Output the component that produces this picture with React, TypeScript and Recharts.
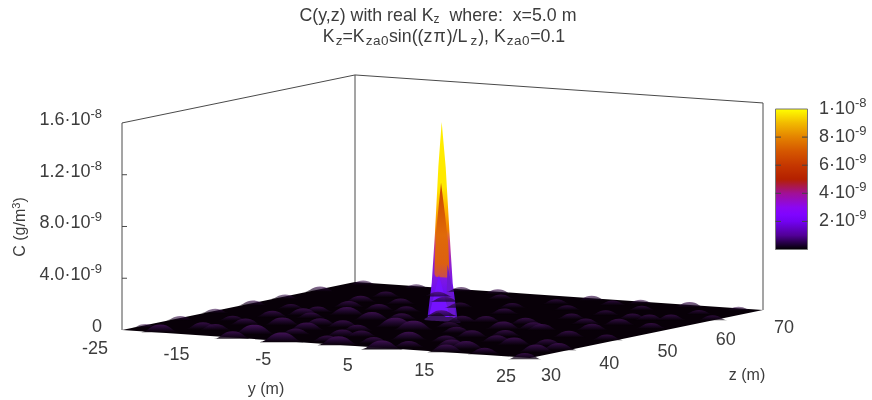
import { Area, ComposedChart, ReferenceArea, ReferenceLine, Scatter, XAxis, YAxis } from "recharts";

// C values are in units of 1e-9 g/m3
const yTicks = [-25, -15, -5, 5, 15, 25];
const zTicks = [30, 40, 50, 60, 70];
const cTicks = [
  { c: 0, main: "0", exp: "" },
  { c: 4, main: "4.0·10", exp: "-9" },
  { c: 8, main: "8.0·10", exp: "-9" },
  { c: 12, main: "1.2·10", exp: "-8" },
  { c: 16, main: "1.6·10", exp: "-8" },
];
const barTicks = [
  { c: 2, main: "2·10", exp: "-9" },
  { c: 4, main: "4·10", exp: "-9" },
  { c: 6, main: "6·10", exp: "-9" },
  { c: 8, main: "8·10", exp: "-9" },
  { c: 10, main: "1·10", exp: "-8" },
];
const paletteStops = [
  ["0%", "#000000"], ["10%", "#510096"], ["20%", "#7202f2"], ["25%", "#8004ff"],
  ["30%", "#8b07f2"], ["40%", "#a11096"], ["50%", "#b42000"], ["60%", "#c53700"],
  ["70%", "#d55700"], ["80%", "#e48300"], ["90%", "#f2ba00"], ["100%", "#ffff00"],
];

// small hills of the floor, [y, z, C]
const floorHills = [
  [-21.6, 31.8, 0.4], [-19, 35.5, 0.35], [-17, 40, 0.3], [-12, 34.5, 0.55], [-12, 30.8, 0.4],
  [-6, 30.8, 0.55], [-13.5, 41.4, 0.4], [-17.4, 35.4, 0.3], [-16, 51, 0.25], [-18, 46, 0.3],
  [-16, 48.5, 0.35], [-10, 43, 0.35], [-9, 39.3, 0.4], [-12, 50.4, 0.45], [-7.5, 48.4, 0.45],
  [-15.4, 55.5, 0.3], [-16.6, 59.2, 0.3], [-2.2, 45, 0.55], [0.8, 43.9, 0.55], [6.5, 30.5, 0.5],
  [-7, 42.7, 0.35], [0.6, 31.3, 0.5], [4.8, 37.5, 0.45], [11.9, 34.9, 0.4], [13.6, 31.6, 0.4],
  [13.8, 40, 0.35], [8.6, 48.4, 0.4], [11.4, 49.7, 0.35], [16.7, 38.9, 0.4], [21.9, 35.4, 0.4],
  [14.1, 34.3, 0.45], [9.3, 42, 0.35], [2, 57.8, 0.25], [-11.3, 54.9, 0.3], [-12, 59.6, 0.25],
  [-16.5, 63.4, 0.25], [1.7, 51, 0.3], [8.4, 52.5, 0.3], [3.9, 52, 0.3], [24, 30.5, 0.3],
  [-7.5, 70, 0.2], [10.4, 57.6, 0.25], [17.4, 55.9, 0.3], [18, 60.3, 0.25], [17.2, 51.6, 0.3],
  [23, 37.7, 0.35], [12.6, 49.4, 0.3], [20, 61.2, 0.25], [23.8, 63, 0.2], [16, 70, 0.22],
  [4, 70, 0.2], [2.3, 66.3, 0.2], [16, 60.2, 0.25], [11.8, 61.5, 0.2], [14, 55, 0.25],
  [18.2, 46.2, 0.3], [-24, 70, 0.15], [-17.5, 70, 0.15], [-25, 52.5, 0.2], [-25, 64, 0.2],
  [-25, 40, 0.15],
  [-20, 42, 0.2], [-8, 36, 0.3], [-3, 37, 0.35], [-2, 33, 0.3], [3, 34, 0.3], [8, 33, 0.3],
  [9, 38, 0.3], [18, 32, 0.3], [20, 40, 0.3], [-5, 50, 0.3], [-3, 54, 0.25], [-8, 55, 0.25],
  [-5, 60, 0.2], [-9, 63, 0.2], [0, 62, 0.2], [6, 63, 0.2], [-12, 66, 0.18], [-5, 67, 0.18],
  [8, 68, 0.18], [13, 66, 0.18], [20, 66, 0.15], [22, 55, 0.25], [23, 46, 0.25], [6, 44, 0.3],
  [3, 47, 0.25], [12, 44, 0.3], [-4, 41, 0.3], [-1, 37.5, 0.3], [-14, 47, 0.25], [-20, 52, 0.18],
  [-12, 70, 0.18], [10, 70, 0.15], [22, 70, 0.12], [-25, 46, 0.15], [-25, 58, 0.15], [-25, 34, 0.1],
];

// floor outline, front edge and back edge as [y, z] pairs
const floorFront = [[-25, 30], [3.55, 30], [25, 30], [25, 70]];
const floorBack = [[-25, 30], [-25, 70], [-3.55, 70], [25, 70]];

// peak at z=50: y offset, lower C, upper C
const peakOutline = [
  [-1.8, 0.1, 0.3], [-1.32, 0.1, 2.8], [-0.92, 0.1, 6.7], [-0.51, 0.1, 11.8], [-0.1, 0.1, 15.3],
  [0.39, 0.1, 11.84], [0.86, 0.1, 6.76], [1.25, 0.1, 2.9], [1.8, 0.1, 0.3],
];
const peakOrange = [
  [-0.98, 3.5, 3.9], [-0.82, 3.3, 6.6], [-0.18, 3.3, 10.6], [0.3, 3.3, 8.2], [0.72, 3.3, 5.8], [0.85, 3.4, 3.6],
];
const peakPurple = [
  [-1.6, 0.2, 0.4], [-0.43, 0.2, 3.45], [0.85, 0.2, 0.4],
];
const peakRight = [
  [0.4, 0.2, 0.3], [0.62, 0.2, 4.3], [1.22, 0.2, 2.4], [1.6, 0.2, 0.4],
];
const peakFoot = [
  [-2.2, -0.1, 0], [-1.6, -0.1, 0.22], [-1.0, -0.1, 0.42], [-0.5, -0.1, 0.55], [0, -0.1, 0.42],
  [0.5, -0.1, 0.25], [1.0, -0.1, 0.3], [1.5, -0.1, 0.2], [2.2, -0.1, 0],
];

const project = (y: number, z: number, c: number) => ({
  px: 122 + (y + 25) * 8.16 + (z - 30) * 5.825,
  py: 330 + (y + 25) * 0.56 - (z - 30) * 1.2 - c * 12.94,
});
const barY = (c: number) => 249.5 - c * 14.05;

const floorBand = floorFront.map((f, i) => {
  const lo = project(f[0], f[1], 0);
  const hi = project(floorBack[i][0], floorBack[i][1], 0);
  return { px: lo.px, band: [lo.py, hi.py] };
});
floorBand[1].px = project(-25, 70, 0).px;
floorBand[2].px = project(25, 30, 0).px;

const peakBand = (rows: number[][]) =>
  rows.map(([y, lo, hi]) => ({
    px: project(y, 50, lo).px,
    band: [project(y, 50, lo).py, project(y, 50, hi).py],
  }));

const hills = floorHills
  .map(([y, z, c]) => ({ ...project(y, z, c), c, base: project(y, z, 0).py }))
  .sort((a, b) => a.base - b.base);
const hillsBehind = hills.filter((h) => h.base < 321);
const hillsFront = hills.filter((h) => h.base >= 321);

const yTickLabels = yTicks.map((y) => {
  const p = project(y, 30, 0);
  return { px: p.px - 14, py: p.py + 18, main: String(y), exp: "", anchor: "end" };
});
const zTickLabels = zTicks.map((z) => {
  const p = project(25, z, 0);
  return { px: p.px + 11, py: p.py + 17, main: String(z), exp: "", anchor: "start" };
});
const cTickLabels = cTicks.map((t) => ({
  px: 102,
  py: project(-25, 30, t.c).py - 4,
  main: t.main,
  exp: t.exp,
  anchor: "end",
}));
const barLabels = barTicks.map((t) => ({
  px: 819,
  py: barY(t.c) - 1,
  main: t.main,
  exp: t.exp,
  anchor: "start",
}));

const INK = "#3c3c3c";

function Hill({ cx, cy, payload }: any) {
  const h = payload.base - payload.py + 2.5;
  const w = 11 + payload.c * 20;
  return (
    <path
      d={`M${cx - w},${cy + h} C${cx - w * 0.6},${cy + h * 0.9} ${cx - w * 0.55},${cy} ${cx},${cy} C${cx + w * 0.55},${cy} ${cx + w * 0.6},${cy + h * 0.9} ${cx + w},${cy + h} Z`}
      fill="url(#hillFill)"
      fillOpacity={Math.min(1, 0.45 + payload.c)}
      style={{ filter: "blur(0.6px)" }}
    />
  );
}

function TickText({ cx, cy, payload }: any) {
  return (
    <text x={cx} y={cy} dy={6} textAnchor={payload.anchor} fontSize={18} fill={INK} fontFamily="Liberation Sans">
      {payload.main}
      {payload.exp ? (
        <tspan dy={-7} fontSize={13}>
          {payload.exp}
        </tspan>
      ) : null}
    </text>
  );
}

const box = [
  [[-25, 30, 0], [-25, 30, 16]],
  [[-25, 30, 16], [-25, 70, 16]],
  [[-25, 70, 16], [25, 70, 16]],
  [[-25, 70, 16], [-25, 70, 0]],
  [[25, 70, 16], [25, 70, 0]],
];

const boxSegment = (a: number[], b: number[]) => {
  const p = project(a[0], a[1], a[2]);
  const q = project(b[0], b[1], b[2]);
  return [{ x: p.px, y: p.py }, { x: q.px, y: q.py }];
};

export default function App() {
  return (
    <div style={{ position: "absolute", left: 0, top: 0, width: 872, height: 400, filter: "blur(0.45px)" }}>
      <ComposedChart width={872} height={400} margin={{ top: 0, right: 0, bottom: 0, left: 0 }}>
        <defs>
          <linearGradient id="barFill" x1="0" y1="1" x2="0" y2="0">
            {paletteStops.map(([o, c]) => (
              <stop key={o} offset={o} stopColor={c} />
            ))}
          </linearGradient>
          <linearGradient id="hillFill" x1="0" y1="0" x2="0" y2="1">
            <stop offset="0%" stopColor="#421256" />
            <stop offset="50%" stopColor="#220830" />
            <stop offset="100%" stopColor="#080008" />
          </linearGradient>
          <linearGradient id="outlineFill" x1="0" y1="0" x2="0" y2="1">
            <stop offset="0%" stopColor="#ffee00" />
            <stop offset="33%" stopColor="#ffe800" />
            <stop offset="45%" stopColor="#ffb000" />
            <stop offset="55%" stopColor="#f08000" />
            <stop offset="62%" stopColor="#c84090" />
            <stop offset="72%" stopColor="#9020d0" />
            <stop offset="85%" stopColor="#7010f0" />
            <stop offset="100%" stopColor="#5010c0" />
          </linearGradient>
          <linearGradient id="orangeFill" x1="0" y1="0" x2="0" y2="1">
            <stop offset="0%" stopColor="#c94400" />
            <stop offset="55%" stopColor="#e06a08" />
            <stop offset="85%" stopColor="#dc6010" />
            <stop offset="100%" stopColor="#c84a50" />
          </linearGradient>
        </defs>
        <XAxis dataKey="px" type="number" domain={[0, 872]} hide />
        <YAxis type="number" domain={[0, 400]} reversed hide />

        {box.map(([a, b], i) => (
          <ReferenceLine key={i} segment={boxSegment(a, b)} stroke="#4a4a4a" strokeWidth={1} ifOverflow="visible" />
        ))}
        {cTicks.slice(1, 4).map((t) => (
          <ReferenceLine
            key={t.c}
            segment={[
              { x: 122, y: project(-25, 30, t.c).py },
              { x: 127, y: project(-25, 30, t.c).py },
            ]}
            stroke="#4a4a4a"
          />
        ))}

        <Area data={floorBand} dataKey="band" type="linear" fill="#080008" fillOpacity={1} stroke="none" dot={false} activeDot={false} isAnimationActive={false} />
        <Scatter data={hillsBehind} dataKey="py" shape={Hill} isAnimationActive={false} />
        <Area data={peakBand(peakOutline)} dataKey="band" type="linear" fill="url(#outlineFill)" fillOpacity={1} stroke="none" dot={false} activeDot={false} isAnimationActive={false} />
        <Area data={peakBand(peakOrange)} dataKey="band" type="linear" fill="url(#orangeFill)" fillOpacity={1} stroke="none" dot={false} activeDot={false} isAnimationActive={false} />
        <Area data={peakBand(peakRight)} dataKey="band" type="linear" fill="#6c18d0" fillOpacity={1} stroke="none" dot={false} activeDot={false} isAnimationActive={false} />
        <Area data={peakBand(peakPurple)} dataKey="band" type="linear" fill="#7612ff" fillOpacity={1} stroke="none" dot={false} activeDot={false} isAnimationActive={false} />
        <Area data={peakBand(peakFoot)} dataKey="band" type="monotone" fill="#3a1460" fillOpacity={1} stroke="none" dot={false} activeDot={false} isAnimationActive={false} />
        <Scatter data={hillsFront} dataKey="py" shape={Hill} isAnimationActive={false} />

        <ReferenceArea x1={775.5} x2={807.5} y1={barY(10)} y2={barY(0)} fill="url(#barFill)" fillOpacity={1} stroke="#777" strokeWidth={1} ifOverflow="visible" />
        {barTicks.slice(0, 4).flatMap((t) => [
          <ReferenceLine key={`l${t.c}`} segment={[{ x: 775.5, y: barY(t.c) }, { x: 781, y: barY(t.c) }]} stroke="#444" />,
          <ReferenceLine key={`r${t.c}`} segment={[{ x: 802, y: barY(t.c) }, { x: 807.5, y: barY(t.c) }]} stroke="#444" />,
        ])}

        <Scatter data={yTickLabels} dataKey="py" shape={TickText} isAnimationActive={false} />
        <Scatter data={zTickLabels} dataKey="py" shape={TickText} isAnimationActive={false} />
        <Scatter data={cTickLabels} dataKey="py" shape={TickText} isAnimationActive={false} />
        <Scatter data={barLabels} dataKey="py" shape={TickText} isAnimationActive={false} />

        <text x={438} y={21} textAnchor="middle" fontSize={17.8} fill={INK} fontFamily="Liberation Sans" xmlSpace="preserve">
          C(y,z) with real K<tspan dy={2} fontSize={12}>z</tspan>
          <tspan dy={-2}>  where:  x=5.0 m</tspan>
        </text>
        <text x={444} y={42} textAnchor="middle" fontSize={17.8} fill={INK} fontFamily="Liberation Sans">
          K<tspan dy={3} dx={1} fontSize={13.5}>z</tspan>
          <tspan dy={-3}>=K</tspan>
          <tspan dy={3} dx={1} fontSize={13.5} letterSpacing={0.5}>za0</tspan>
          <tspan dy={-3}>sin((z</tspan>
          <tspan dx={1}>π</tspan>
          <tspan dx={1}>)/L</tspan>
          <tspan dy={3} dx={3} fontSize={13.5}>z</tspan>
          <tspan dy={-3} dx={1}>), K</tspan>
          <tspan dy={3} dx={1} fontSize={13.5} letterSpacing={0.5}>za0</tspan>
          <tspan dy={-3}>=0.1</tspan>
        </text>
        <text x={266} y={394} textAnchor="middle" fontSize={16} fill={INK} fontFamily="Liberation Sans">y (m)</text>
        <text x={747} y={380} textAnchor="middle" fontSize={16} fill={INK} fontFamily="Liberation Sans">z (m)</text>
        <text transform="translate(25,227) rotate(-90)" textAnchor="middle" fontSize={16} fill={INK} fontFamily="Liberation Sans">
          C (g/m<tspan dy={-5} fontSize={11}>3</tspan>
          <tspan dy={5}>)</tspan>
        </text>
      </ComposedChart>
    </div>
  );
}
